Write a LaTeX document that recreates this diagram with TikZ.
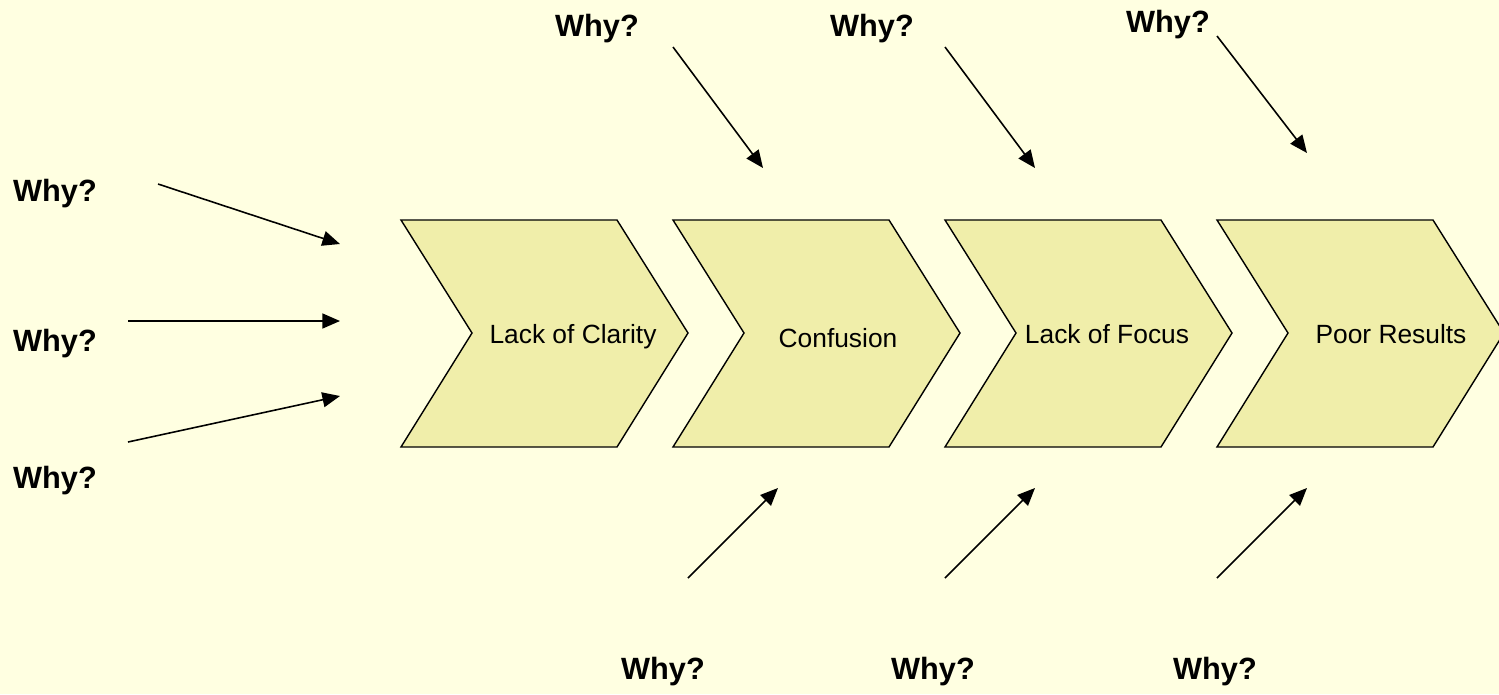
\documentclass[tikz,border=0pt]{standalone}
\usepackage{fontspec}
\setmainfont{Liberation Sans}
\usepackage{tikz}
\usetikzlibrary{arrows.meta}
\usepackage{xcolor}
\definecolor{hintergrund}{RGB}{255,255,225}
\definecolor{chevfill}{RGB}{240,238,170}

\begin{document}
\begin{tikzpicture}[
    x=0.02cm, y=-0.02cm,
    chev/.style={draw=black, fill=chevfill, line width=0.8pt, line join=miter},
    stage/.style={font=\fontsize{15}{18}\selectfont, anchor=base, inner sep=0pt},
    why/.style={font=\fontsize{17.5}{21}\selectfont\bfseries, anchor=base, inner sep=0pt},
    pfeil/.style={-{Triangle[length=10pt,width=8.5pt]}, draw, line width=0.9pt}
    ]

\fill[hintergrund] (0,0) rectangle (1499,694);
\useasboundingbox (0,0) rectangle (1499,694);

%chevrons
\foreach \i/\l/\tx/\ty/\t in {1/401/573/343/Lack of Clarity, 2/673/838/347/Confusion,
    3/945/1107/343/Lack of Focus, 4/1217/1391/343/Poor Results} {
    \draw[chev] (\l,220) -- ++(216,0) -- ++(71,113) -- ++(-71,114) -- ++(-216,0) -- ++(71,-114) -- cycle;
    \node[stage] (s\i) at (\tx,\ty) {\t};
}

%left side
\node[why] (w1) at (55,201) {Why?};
\node[why] (w2) at (55,351) {Why?};
\node[why] (w3) at (55,488) {Why?};
\coordinate (a1) at (158,184);  \coordinate (b1) at (340,244);
\coordinate (a2) at (128,321);  \coordinate (b2) at (340,321);
\coordinate (a3) at (128,442);  \coordinate (b3) at (340,396);

%upper part
\node[why] (w4) at (597,36) {Why?};
\node[why] (w5) at (872,36) {Why?};
\node[why] (w6) at (1168,32) {Why?};
\coordinate (a4) at (673,47);   \coordinate (b4) at (763,168);
\coordinate (a5) at (945,47);   \coordinate (b5) at (1035,168);
\coordinate (a6) at (1217,36);  \coordinate (b6) at (1307,153);

%lower part
\node[why] (w7) at (663,679) {Why?};
\node[why] (w8) at (933,679) {Why?};
\node[why] (w9) at (1215,679) {Why?};
\coordinate (a7) at (688,578);  \coordinate (b7) at (778,488);
\coordinate (a8) at (945,578);  \coordinate (b8) at (1035,488);
\coordinate (a9) at (1217,578); \coordinate (b9) at (1307,488);

\foreach \i in {1,...,9}
    \draw[pfeil] (a\i) -- (b\i);
\end{tikzpicture}
\end{document}
